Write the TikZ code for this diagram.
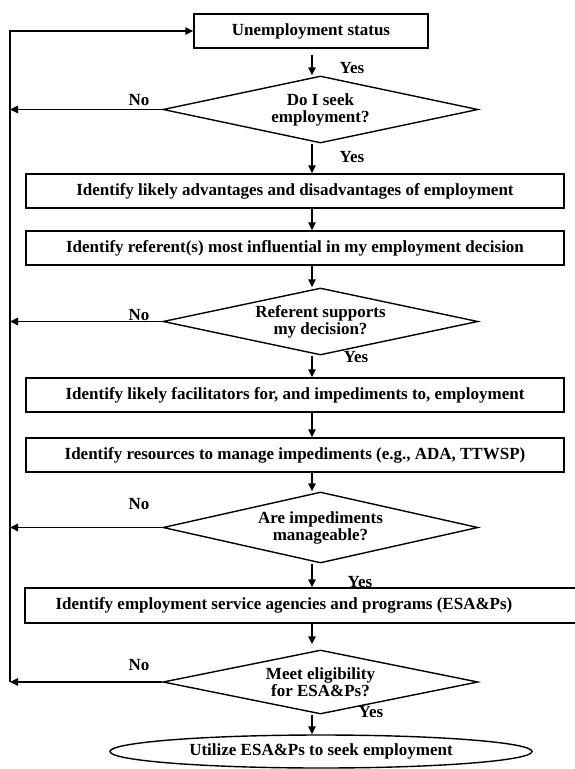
\documentclass[tikz,border=0pt]{standalone}
\usepackage{fontspec}
\setmainfont{Liberation Serif}
\usetikzlibrary{shapes.geometric,arrows.meta}
\begin{document}
\begin{tikzpicture}[x=1pt,y=-1pt,
  font=\fontsize{17}{17}\selectfont\bfseries,
  stepbox/.style={draw, line width=1.4pt, rectangle, minimum height=34pt, inner sep=0pt},
  widebox/.style={stepbox, minimum width=538pt},
  decision/.style={draw, line width=1.4pt, shape=diamond, inner sep=0pt,
    minimum width=315pt,
    label={[align=center, inner sep=0pt]center:#1}},
  goal/.style={draw, line width=1.4pt, shape=ellipse, inner sep=0pt,
    minimum width=422pt, minimum height=33pt},
  flow/.style={line width=1.4pt, -{Triangle[length=8pt,width=7.5pt]}},
  answer/.style={inner sep=0pt}]
\useasboundingbox (0,0) rectangle (575,769);

% column of the main downward arrows and the return line on the left
\coordinate (col) at (312,0);
\coordinate (lx) at (10,0);

% steps and decisions
\node[stepbox, minimum width=234pt] (b1) at (311,31) {Unemployment status};
\node[decision={Do I seek\\employment?}, minimum height=67pt] (d1) at (320.5,109.5) {};
\node[widebox] (b3) at (295,191) {Identify likely advantages and disadvantages of employment};
\node[widebox] (b4) at (295,248) {Identify referent(s) most influential in my employment decision};
\node[decision={Referent supports\\my decision?}, minimum height=67pt] (d2) at (320.5,321.5) {};
\node[widebox] (b5) at (295,395) {Identify likely facilitators for, and impediments to, employment};
\node[widebox] (b6) at (295,455) {Identify resources to manage impediments (e.g., ADA, TTWSP)};
\node[decision={Are impediments\\manageable?}, minimum height=71pt] (d3) at (320.5,527.5) {};
\node[stepbox, minimum width=565pt, minimum height=35pt] (b7) at (307.5,605.5) {};
\node[inner sep=0pt] (b7text) at (284,605.5) {Identify employment service agencies and programs (ESA\&Ps)};
\node[decision={Meet eligibility\\for ESA\&Ps?}, minimum height=64pt] (d4) at (320.5,682) {};
\node[goal] (g) at (321,751.5) {Utilize ESA\&Ps to seek employment};

% main sequence
\draw[flow, shorten <=6pt] (b1.south -| col) -- (d1.north -| col);
\draw[flow] (d1.south -| col) -- (b3.north -| col);
\draw[flow] (b3.south -| col) -- (b4.north -| col);
\draw[flow] (b4.south -| col) -- (d2.north -| col);
\draw[flow] (d2.south -| col) -- (b5.north -| col);
\draw[flow] (b5.south -| col) -- (b6.north -| col);
\draw[flow] (b6.south -| col) -- (d3.north -| col);
\draw[flow] (d3.south -| col) -- (b7.north -| col);
\draw[flow, shorten >=5pt] (b7.south -| col) -- (d4.north -| col);
\draw[flow] (d4.south -| col) -- (g.north -| col);

% "No" branches back to the start
\draw[flow] (d1.west) -- (d1.west -| lx);
\draw[flow] (d2.west) -- (d2.west -| lx);
\draw[flow] (d3.west) -- (d3.west -| lx);
\draw[flow] (d4.west) -- (d4.west -| lx);
\draw[flow] (d4.west -| lx) -- (b1.west -| lx) -- (b1.west);

% branch labels
\node[answer] (y1) at (352,68) {Yes};
\node[answer] (y2) at (352,157) {Yes};
\node[answer] (y3) at (356,357) {Yes};
\node[answer] (y4) at (360,582) {Yes};
\node[answer] (y5) at (371,712) {Yes};
\node[answer] (n1) at (139,100) {No};
\node[answer] (n2) at (139,315) {No};
\node[answer] (n3) at (139,504) {No};
\node[answer] (n4) at (139,665) {No};
\end{tikzpicture}
\end{document}
